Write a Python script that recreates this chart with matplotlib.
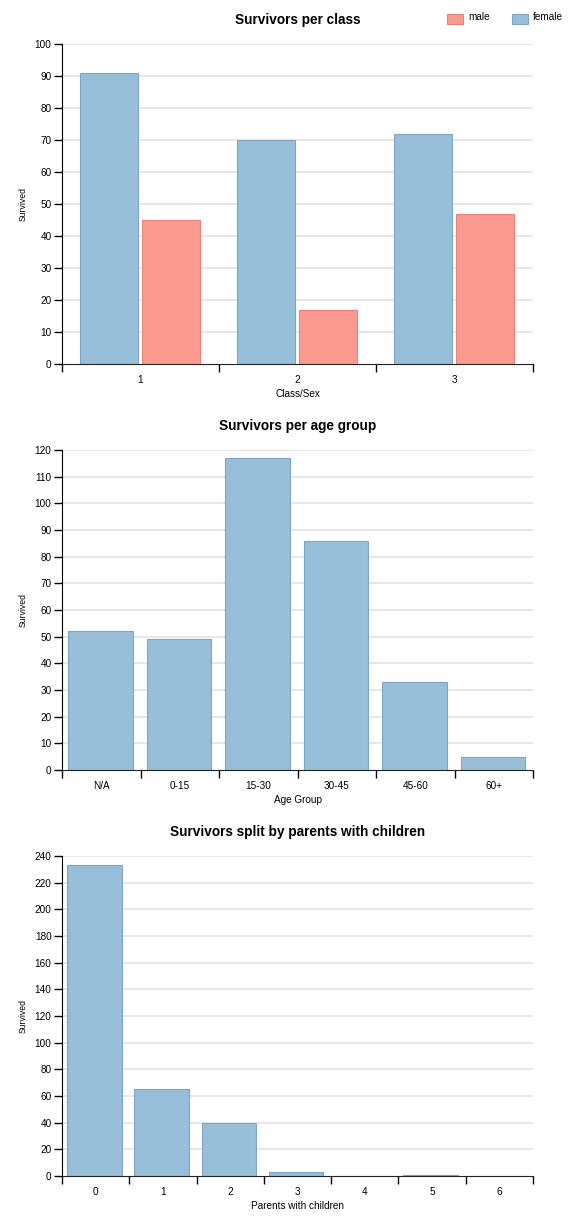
#!/usr/bin/env python3
import numpy as np
import matplotlib
matplotlib.use("Agg")
import matplotlib.pyplot as plt
from matplotlib.patches import Rectangle

plt.rcParams['font.family'] = ['Liberation Sans', 'DejaVu Sans']

# data
classes = ['1', '2', '3']
female_survived = [91, 70, 72]
male_survived = [45, 17, 47]

age_groups = ['N/A', '0-15', '15-30', '30-45', '45-60', '60+']
age_survived = [52, 49, 117, 86, 33, 5]

parch_labels = ['0', '1', '2', '3', '4', '5', '6']
parch_survived = [233, 65, 40, 3, 0, 1, 0]

BLUE = '#98bfda'
BLUE_EDGE = '#7fa6c4'
RED = '#fb9a8f'
RED_EDGE = '#e8837a'
GRID = '#e8e8e8'

W, H = 578, 1226
fig = plt.figure(figsize=(W / 100, H / 100), dpi=100)


def make_axes(top_px, bottom_px):
    left = 62 / W
    width = 471 / W
    bottom = 1 - bottom_px / H
    height = (bottom_px - top_px) / H
    return fig.add_axes([left, bottom, width, height])


def style_axes(ax, labels, ymax, ystep, title, xlabel):
    n = len(labels)
    ax.set_xlim(0, n)
    ax.set_ylim(0, ymax)
    yt = np.arange(0, ymax + 1, ystep)
    ax.set_yticks(yt)
    ax.set_yticklabels([str(v) for v in yt])
    for v in yt[1:]:
        ax.axhline(v, color=GRID, lw=1.4, zorder=0)
    # ticks at band edges, labels in band centres
    ax.set_xticks(np.arange(0, n + 1))
    ax.set_xticklabels([])
    ax.set_xticks(np.arange(n) + 0.5, minor=True)
    ax.set_xticklabels(labels, minor=True)
    ax.tick_params(axis='x', which='major', length=6, width=1, color='black', direction='out')
    ax.tick_params(axis='x', which='minor', length=0, pad=8, labelsize=7.2)
    ax.tick_params(axis='y', length=6, width=1, direction='out', labelsize=7.2, pad=1.5)
    for s in ['top', 'right']:
        ax.spines[s].set_visible(False)
    ax.spines['left'].set_color('black')
    ax.spines['bottom'].set_color('#222222')
    ax.set_title(title, fontsize=9.8, fontweight='bold', pad=14.5)
    ax.set_xlabel(xlabel, fontsize=7.2, labelpad=3)
    ax.set_ylabel('Survived', fontsize=6.2)
    ax.yaxis.set_label_coords((28 - 62) / 471, 0.5)


# chart 1: survivors per class
ax1 = make_axes(44, 364)
x = np.arange(len(classes)) + 0.5
ax1.bar(x - 0.2, female_survived, width=0.366, color=BLUE, edgecolor=BLUE_EDGE, lw=0.8, zorder=2)
ax1.bar(x + 0.195, male_survived, width=0.366, color=RED, edgecolor=RED_EDGE, lw=0.8, zorder=2)
style_axes(ax1, classes, 100, 10, 'Survivors per class', 'Class/Sex')

# legend, top right
legend_items = [('male', RED, RED_EDGE, 447), ('female', BLUE, BLUE_EDGE, 512)]
for name, fc, ec, px in legend_items:
    fig.patches.append(Rectangle((px / W, 1 - 24 / H), 16 / W, 10 / H,
                                 transform=fig.transFigure, facecolor=fc,
                                 edgecolor=ec, lw=0.8))
    fig.text((px + 21) / W, 1 - 17.5 / H, name, fontsize=7.2, va='center', ha='left')

# chart 2: survivors per age group
ax2 = make_axes(450, 770)
x = np.arange(len(age_groups)) + 0.5
ax2.bar(x - 0.01, age_survived, width=0.82, color=BLUE, edgecolor=BLUE_EDGE, lw=0.8, zorder=2)
style_axes(ax2, age_groups, 120, 10, 'Survivors per age group', 'Age Group')

# chart 3: survivors split by parents with children
ax3 = make_axes(856, 1176)
x = np.arange(len(parch_labels)) + 0.5
ax3.bar(x - 0.02, parch_survived, width=0.81, color=BLUE, edgecolor=BLUE_EDGE, lw=0.8, zorder=2)
style_axes(ax3, parch_labels, 240, 20, 'Survivors split by parents with children',
           'Parents with children')

fig.savefig('out.png', dpi=100)
